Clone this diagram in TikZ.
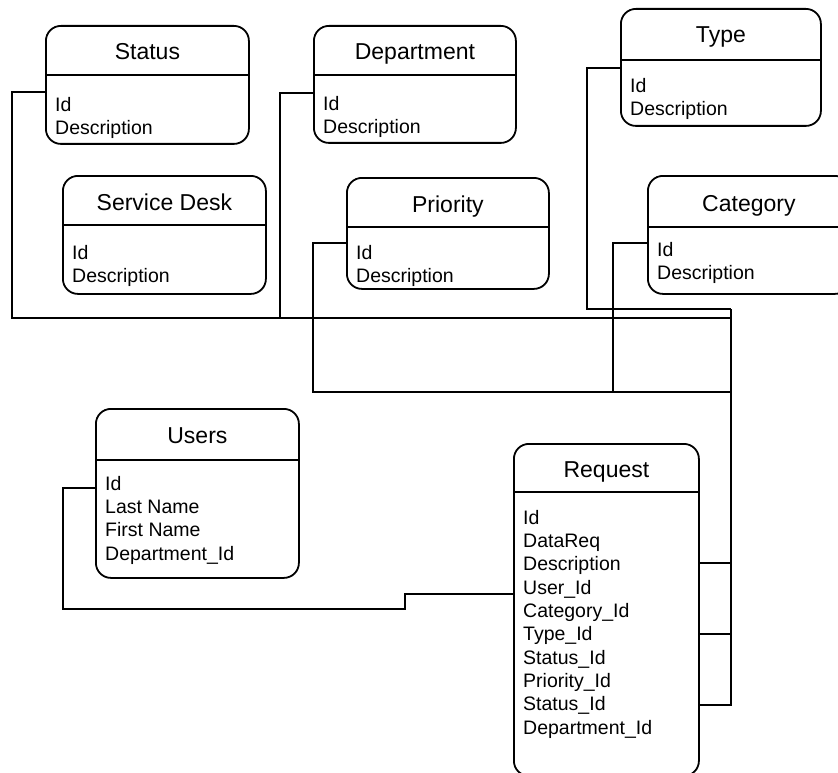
\documentclass[tikz,border=0pt]{standalone}
\usepackage{fontspec}
\setmainfont{Liberation Sans}

\begin{document}
\begin{tikzpicture}[
                x=1pt, y=-1pt,
                tbl/.style={draw, line width=1.8pt, rounded corners=15pt, anchor=north west, inner sep=0pt},
                sep/.style={line width=1.8pt},
                ttl/.style={anchor=base, font=\fontsize{23}{27}\selectfont},
                flds/.style={anchor=north west, align=left, inner sep=0pt, font=\fontsize{19.5}{23.3}\selectfont},
                conn/.style={line width=1.2pt}
            ]
                \useasboundingbox (0,0) rectangle (838,773);
                \clip (0,0) rectangle (838,773);

                % tables
                \node[tbl, minimum width=203pt, minimum height=118pt] (status) at (45,25) {};
                \draw[sep] ([yshift=-50pt]status.north west) -- ([yshift=-50pt]status.north east);
                \node[ttl] (status-t) at ([yshift=-35pt]status.north) {Status};
                \node[flds] (status-f) at ([xshift=10pt,yshift=-72pt]status.north west) {Id\\Description};

                \node[tbl, minimum width=203pt, minimum height=118pt] (desk) at (62,175) {};
                \draw[sep] ([yshift=-50pt]desk.north west) -- ([yshift=-50pt]desk.north east);
                \node[ttl] (desk-t) at ([yshift=-35pt]desk.north) {Service Desk};
                \node[flds] (desk-f) at ([xshift=10pt,yshift=-70pt]desk.north west) {Id\\Description};

                \node[tbl, minimum width=202pt, minimum height=117pt] (department) at (313,25) {};
                \draw[sep] ([yshift=-50pt]department.north west) -- ([yshift=-50pt]department.north east);
                \node[ttl] (department-t) at ([yshift=-35pt]department.north) {Department};
                \node[flds] (department-f) at ([xshift=10pt,yshift=-71pt]department.north west) {Id\\Description};

                \node[tbl, minimum width=202pt, minimum height=111pt] (priority) at (346,177) {};
                \draw[sep] ([yshift=-50pt]priority.north west) -- ([yshift=-50pt]priority.north east);
                \node[ttl] (priority-t) at ([yshift=-35pt]priority.north) {Priority};
                \node[flds] (priority-f) at ([xshift=10pt,yshift=-68pt]priority.north west) {Id\\Description};

                \node[tbl, minimum width=200pt, minimum height=117pt] (type) at (620,8) {};
                \draw[sep] ([yshift=-52pt]type.north west) -- ([yshift=-52pt]type.north east);
                \node[ttl] (type-t) at ([yshift=-35pt]type.north) {Type};
                \node[flds] (type-f) at ([xshift=10pt,yshift=-70pt]type.north west) {Id\\Description};

                \node[tbl, minimum width=202pt, minimum height=118pt] (category) at (647,175) {};
                \draw[sep] ([yshift=-52pt]category.north west) -- ([yshift=-52pt]category.north east);
                \node[ttl] (category-t) at ([yshift=-36pt]category.north) {Category};
                \node[flds] (category-f) at ([xshift=10pt,yshift=-67pt]category.north west) {Id\\Description};

                \node[tbl, minimum width=203pt, minimum height=169pt] (users) at (95,408) {};
                \draw[sep] ([yshift=-52pt]users.north west) -- ([yshift=-52pt]users.north east);
                \node[ttl] (users-t) at ([yshift=-35pt]users.north) {Users};
                \node[flds] (users-f) at ([xshift=10pt,yshift=-68pt]users.north west) {Id\\Last Name\\First Name\\Department\_Id};

                \node[tbl, minimum width=185pt, minimum height=332pt] (request) at (513,443) {};
                \draw[sep] ([yshift=-49pt]request.north west) -- ([yshift=-49pt]request.north east);
                \node[ttl] (request-t) at ([yshift=-34pt]request.north) {Request};
                \node[flds] (request-f) at ([xshift=10pt,yshift=-67pt]request.north west)
                    {Id\\DataReq\\Description\\User\_Id\\Category\_Id\\Type\_Id\\Status\_Id\\Priority\_Id\\Status\_Id\\Department\_Id};

                % links
                \coordinate (trunk) at (731,309);
                \draw[conn] ([yshift=-60pt]type.north west) -| (587,309) -- (trunk);
                \draw[conn] ([yshift=-67pt]status.north west) -| (12,318) -- (731,318);
                \draw[conn] ([yshift=-68pt]department.north west) -| (280,318);
                \draw[conn] ([yshift=-66pt]priority.north west) -| (313,392) -- (731,392);
                \draw[conn] ([yshift=-68pt]category.north west) -| (613,392);
                \draw[conn] ([yshift=-120pt]request.north east) -- ++(32,0);
                \draw[conn] ([yshift=-191pt]request.north east) -- ++(32,0);
                \draw[conn] ([yshift=-262pt]request.north east) -| (trunk);
                \draw[conn] ([yshift=-80pt]users.north west) -| (63,609) -- (405,609) -- (405,594) -- ([yshift=-151pt]request.north west);
            \end{tikzpicture}
\end{document}
